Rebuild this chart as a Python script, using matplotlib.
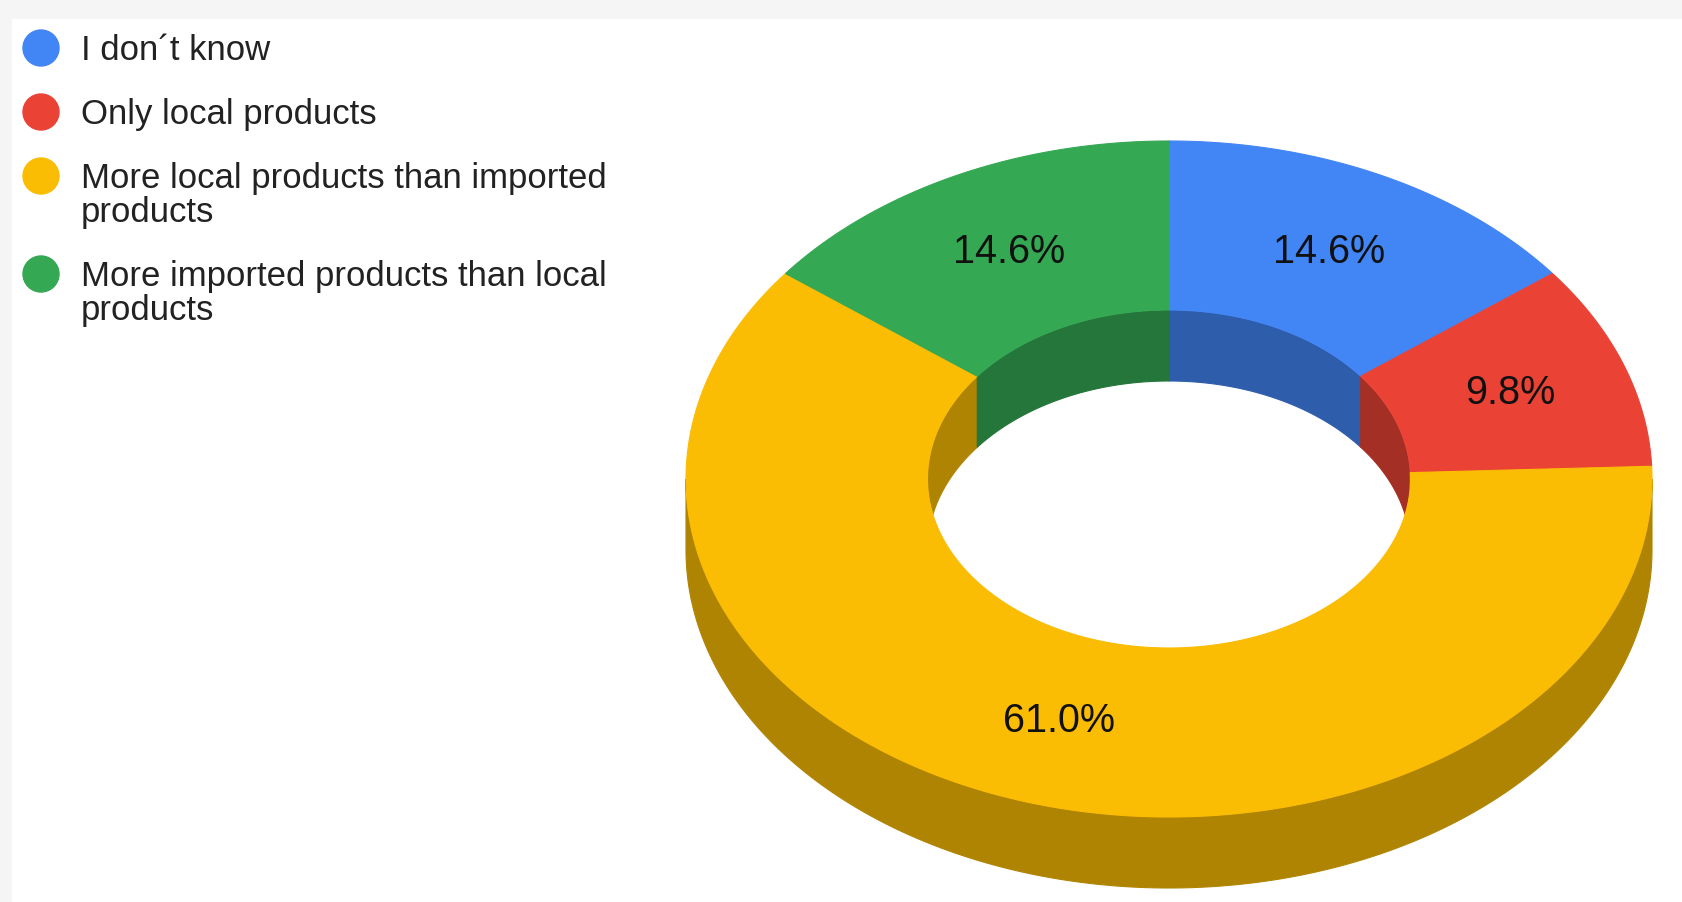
import numpy as np
import matplotlib.pyplot as plt
import matplotlib.colors as mcolors
from matplotlib.patches import Polygon, Ellipse, Rectangle

plt.rcParams['font.family'] = ['Liberation Sans', 'DejaVu Sans']

# Slices, clockwise from 12 o'clock
categories = ["I don´t know",
              "Only local products",
              "More local products than imported\nproducts",
              "More imported products than local\nproducts"]
shares = [14.6, 9.8, 61.0, 14.6]
colors = ["#4285f4", "#ea4335", "#fbbc04", "#34a853"]

# Donut geometry in figure pixels (y grows downwards)
cx, cy = 1169, 479
rx, ry = 483, 338
hole = 0.5
depth = 71


def shade(c, f=0.7):
    r, g, b = mcolors.to_rgb(c)
    return (r * f, g * f, b * f)


def arc(t0, t1, scale, dy=0, n=240):
    # parametric angle measured clockwise from the top
    t = np.linspace(t0, t1, n)
    x = cx + scale * rx * np.sin(t)
    y = cy - scale * ry * np.cos(t) + dy
    return np.column_stack([x, y])


def overlap(a0, a1, b0, b1):
    lo, hi = max(a0, b0), min(a1, b1)
    return (lo, hi) if hi > lo else None


fig = plt.figure(figsize=(16.82, 9.02), dpi=100)
fig.patch.set_facecolor('#f5f5f5')
ax = fig.add_axes([0, 0, 1, 1])
ax.set_xlim(0, 1682)
ax.set_ylim(902, 0)
ax.axis('off')
ax.add_patch(Rectangle((12, 19), 1700, 900, color='white', zorder=0))

fracs = np.array(shares) / sum(shares)
bounds = np.concatenate([[0], np.cumsum(fracs)]) * 2 * np.pi

# outer wall: only the front half faces the viewer
for i, c in enumerate(colors):
    seg = overlap(bounds[i], bounds[i + 1], np.pi / 2, 3 * np.pi / 2)
    if seg:
        pts = np.vstack([arc(seg[0], seg[1], 1), arc(seg[1], seg[0], 1, depth)])
        ax.add_patch(Polygon(pts, fc=shade(c), ec=shade(c), lw=0.8, zorder=1))

# inner wall: back half seen through the hole
hole_clip = Ellipse((cx, cy), 2 * hole * rx, 2 * hole * ry, transform=ax.transData)
for i, c in enumerate(colors):
    for lo, hi in [(0, np.pi / 2), (3 * np.pi / 2, 2 * np.pi)]:
        seg = overlap(bounds[i], bounds[i + 1], lo, hi)
        if seg:
            pts = np.vstack([arc(seg[0], seg[1], hole),
                             arc(seg[1], seg[0], hole, depth)])
            p = Polygon(pts, fc=shade(c), ec=shade(c), lw=0.8, zorder=2)
            ax.add_patch(p)
            p.set_clip_path(hole_clip)

# top face of the ring
for i, c in enumerate(colors):
    t0, t1 = bounds[i], bounds[i + 1]
    pts = np.vstack([arc(t0, t1, 1), arc(t1, t0, hole)])
    ax.add_patch(Polygon(pts, fc=c, ec=c, lw=0.8, zorder=3))

# percentage labels at the middle of each slice
for i, v in enumerate(shares):
    m = (bounds[i] + bounds[i + 1]) / 2
    x = cx + 0.75 * rx * np.sin(m)
    y = cy - 0.75 * ry * np.cos(m)
    ax.text(x, y, f"{v:.1f}%", fontsize=28.5, color='#111111',
            ha='center', va='center', zorder=4)

# legend
y = 48
for name, c in zip(categories, colors):
    ax.add_patch(Ellipse((41, y), 36, 36, color=c, zorder=4))
    lines = name.split("\n")
    for k, line in enumerate(lines):
        ax.text(81, y + 34 * k + 12, line, fontsize=25, color='#222222',
                ha='left', va='baseline', zorder=4)
    y += 64 + 34 * (len(lines) - 1)

fig.savefig("out.png", dpi=100, facecolor=fig.get_facecolor())
